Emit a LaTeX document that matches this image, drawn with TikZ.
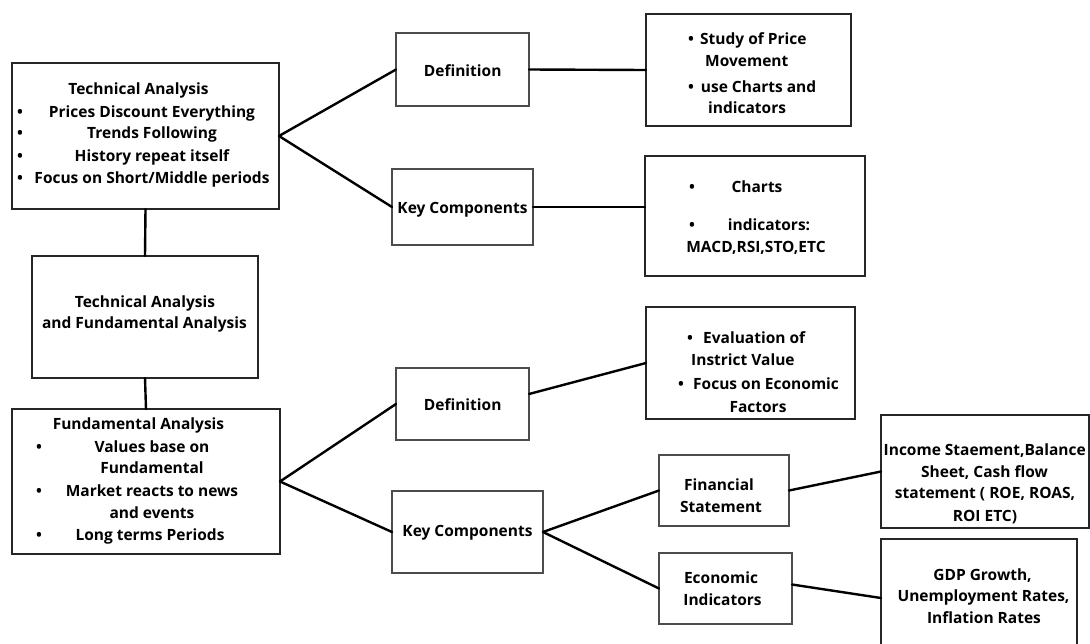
\documentclass[tikz,border=0pt]{standalone}
\usepackage{fontspec}
\setmainfont{Open Sans}
\begin{document}
\begin{tikzpicture}[x=1pt,y=-1pt,
  every node/.style={font=\fontsize{15.5}{18}\selectfont\bfseries},
  boxa/.style={draw=black!85, line width=1.8pt, inner sep=0pt, outer sep=0pt},
  boxb/.style={draw=black!70, line width=1.3pt, inner sep=0pt, outer sep=0pt},
  conn/.style={line width=2.4pt, black, line cap=round},
  txt/.style={anchor=base, inner sep=0pt},
  txtl/.style={anchor=base west, inner sep=0pt},
  bul/.style={anchor=base, inner sep=0pt}]
\clip (0,0) rectangle (1090,643);
\fill[white] (0,0) rectangle (1090,643);
% boxes
\node[boxa, minimum width=267pt, minimum height=146pt] (tech) at (145.5,136) {};
\node[boxa, minimum width=226pt, minimum height=122pt] (mid) at (145,317) {};
\node[boxa, minimum width=268pt, minimum height=145pt] (fund) at (146,481.5) {};
\node[boxb, minimum width=133pt, minimum height=73pt] (def1) at (462.5,69.5) {};
\node[boxa, minimum width=205pt, minimum height=112pt] (study) at (748.5,70) {};
\node[boxb, minimum width=141pt, minimum height=76pt] (kc1) at (462.5,207) {};
\node[boxa, minimum width=220pt, minimum height=120pt] (charts) at (755,216) {};
\node[boxb, minimum width=133pt, minimum height=72pt] (def2) at (462.5,404) {};
\node[boxa, minimum width=209pt, minimum height=112pt] (eval) at (750.5,363) {};
\node[boxb, minimum width=151pt, minimum height=82pt] (kc2) at (467.5,532) {};
\node[boxb, minimum width=130pt, minimum height=71pt] (fin) at (724,490.5) {};
\node[boxb, minimum width=133pt, minimum height=71pt] (econ) at (725.5,588.5) {};
\node[boxa, minimum width=208pt, minimum height=113pt] (income) at (985,471.5) {};
\node[boxa, minimum width=196pt, minimum height=118pt] (gdp) at (979,598) {};
% connectors
\draw[conn] (tech.south) -- (mid.north);
\draw[conn] (mid.south) -- (fund.north);
\draw[conn] (tech.east) -- (def1.west);
\draw[conn] (tech.east) -- (kc1.west);
\draw[conn] (def1.east) -- (study.west);
\draw[conn] (kc1.east) -- ([yshift=9pt]charts.west);
\draw[conn] (fund.east) -- (def2.west);
\draw[conn] (fund.east) -- (kc2.west);
\draw[conn] ([yshift=10pt]def2.east) -- (eval.west);
\draw[conn] (kc2.east) -- (fin.west);
\draw[conn] (kc2.east) -- (econ.west);
\draw[conn] (fin.east) -- (income.west);
\draw[conn] ([yshift=4pt]econ.east) -- (gdp.west);
% technical analysis box text
\node[txt] (t0) at (138.5,94) {Technical Analysis};
\node[bul] (tb1) at (20,117) {\textbullet};
\node[txt] (t1) at (152,117) {Prices Discount Everything};
\node[bul] (tb2) at (20,138) {\textbullet};
\node[txt] (t2) at (152,138) {Trends Following};
\node[bul] (tb3) at (20,161) {\textbullet};
\node[txt] (t3) at (152,161) {History repeat itself};
\node[bul] (tb4) at (20,183) {\textbullet};
\node[txt] (t4) at (152,183) {Focus on Short/Middle periods};
% middle box
\node[txt] (m1) at (145,307) {Technical Analysis};
\node[txt] (m2) at (144.5,328) {and Fundamental Analysis};
% fundamental box
\node[txt] (f0) at (138.5,429) {Fundamental Analysis};
\node[bul] (fb1) at (39,452) {\textbullet};
\node[txt] (f1) at (152,452) {Values base on};
\node[txt] (f2) at (152,473) {Fundamental};
\node[bul] (fb2) at (39,496) {\textbullet};
\node[txt] (f3) at (152,496) {Market reacts to news};
\node[txt] (f4) at (152,518) {and events};
\node[bul] (fb3) at (39,540) {\textbullet};
\node[txt] (f5) at (150,540) {Long terms Periods};
% definition 1 / study
\node[txt] (d1t) at (462.7,76) {Definition};
\node[bul] (sb1) at (691,44) {\textbullet};
\node[txtl] (s1) at (700,44) {Study of Price};
\node[txtl] (s2) at (705,66) {Movement};
\node[bul] (sb2) at (691,92) {\textbullet};
\node[txtl] (s3) at (700.7,92) {use Charts and};
\node[txtl] (s4) at (708,113) {indicators};
% key components 1 / charts
\node[txt] (k1t) at (462.5,213) {Key Components};
\node[bul] (cb1) at (692,192) {\textbullet};
\node[txt] (c1) at (757,192) {Charts};
\node[bul] (cb2) at (692,230) {\textbullet};
\node[txt] (c2) at (769,230) {indicators:};
\node[txt] (c3) at (756,252) {MACD,RSI,STO,ETC};
% definition 2 / evaluation
\node[txt] (d2t) at (462.7,410) {Definition};
\node[bul] (eb1) at (690,343) {\textbullet};
\node[txtl] (e1) at (703,343) {Evaluation of};
\node[txtl] (e2) at (691,365) {Instrict Value};
\node[bul] (eb2) at (681,389) {\textbullet};
\node[txtl] (e3) at (693,389) {Focus on Economic};
\node[txt] (e4) at (758,412) {Factors};
% key components 2
\node[txt] (k2t) at (467.5,536) {Key Components};
\node[txt] (fi1) at (719,490) {Financial};
\node[txt] (fi2) at (721,512) {Statement};
\node[txt] (ec1) at (721,583) {Economic};
\node[txt] (ec2) at (722.5,605) {Indicators};
% income
\node[txt] (i1) at (984.7,455) {Income Staement,Balance};
\node[txt] (i2) at (984.5,477) {Sheet, Cash flow};
\node[txt] (i3) at (985,498) {statement ( ROE, ROAS,};
\node[txt] (i4) at (985,521.5) {ROI ETC)};
% gdp
\node[txt] (g1) at (982.5,580) {GDP Growth,};
\node[txt] (g2) at (983.5,601.5) {Unemployment Rates,};
\node[txt] (g3) at (984,623) {Inflation Rates};
\end{tikzpicture}
\end{document}
